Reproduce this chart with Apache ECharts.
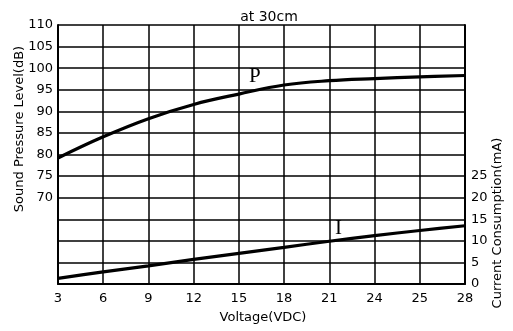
<!DOCTYPE html>
<html>
<head>
<meta charset="utf-8">
<script src="https://cdn.jsdelivr.net/npm/echarts@6/dist/echarts.min.js"></script>
<style>
  html, body { margin: 0; padding: 0; background: #fff; }
  #chart { width: 513px; height: 331px; }
</style>
</head>
<body>
<div id="chart"></div>
<script>
// Supply voltage steps along the bottom axis
const voltageLabels = ['3', '6', '9', '12', '15', '18', '21', '24', '25', '28'];
// Sound pressure level (dB) at 30 cm
const splValues = [79.2, 84.1, 88.3, 91.6, 94.0, 96.1, 97.1, 97.6, 98.0, 98.3];
// Current consumption (mA)
const currentValues = [1.3, 2.8, 4.2, 5.7, 7.1, 8.5, 9.9, 11.2, 12.4, 13.5];

const FONT = 'DejaVu Sans';
const chart = echarts.init(document.getElementById('chart'), null, { renderer: 'canvas' });

chart.setOption({
  animation: false,
  backgroundColor: '#fff',
  grid: { left: 58, right: 48, top: 25, bottom: 47 },
  title: {
    text: 'at 30cm', left: 264, top: 5, textAlign: 'center',
    textStyle: { fontFamily: FONT, fontSize: 14, fontWeight: 'normal', color: '#000' }
  },
  xAxis: {
    type: 'category',
    data: voltageLabels,
    boundaryGap: false,
    axisLine: { lineStyle: { color: '#000', width: 2 } },
    axisTick: { show: false },
    axisLabel: { color: '#000', fontFamily: FONT, fontSize: 13, margin: 8 },
    splitLine: { show: true, lineStyle: { color: '#000', width: 1.5 } }
  },
  yAxis: [
    {
      type: 'value', min: 50, max: 110, interval: 5,
      axisLine: { show: true, lineStyle: { color: '#000', width: 2 } },
      axisTick: { show: false },
      axisLabel: {
        color: '#000', fontFamily: FONT, fontSize: 13, margin: 5,
        formatter: v => (v >= 70 ? String(v) : '')
      },
      splitLine: { show: true, lineStyle: { color: '#000', width: 1.5 } }
    },
    {
      type: 'value', min: 0, max: 60, interval: 5, position: 'right',
      axisLine: { show: true, lineStyle: { color: '#000', width: 2 } },
      axisTick: { show: false },
      axisLabel: {
        color: '#000', fontFamily: FONT, fontSize: 13, margin: 6,
        formatter: v => (v <= 25 ? String(v) : '')
      },
      splitLine: { show: false }
    }
  ],
  series: [
    {
      name: 'P', type: 'line', yAxisIndex: 0, data: splValues,
      smooth: 0.4, showSymbol: false,
      lineStyle: { color: '#000', width: 3.2 }
    },
    {
      name: 'I', type: 'line', yAxisIndex: 1, data: currentValues,
      smooth: 0.3, showSymbol: false,
      lineStyle: { color: '#000', width: 3.2 }
    }
  ],
  graphic: [
    {
      type: 'text', left: 249, top: 66,
      style: { text: 'P', font: '21px "Liberation Serif"', fill: '#000' }
    },
    {
      type: 'text', left: 335, top: 218,
      style: { text: 'I', font: '21px "Liberation Serif"', fill: '#000' }
    },
    {
      type: 'text', x: 20, y: 129, rotation: Math.PI / 2,
      style: {
        text: 'Sound Pressure Level(dB)', font: '13px "DejaVu Sans"', fill: '#000',
        align: 'center', verticalAlign: 'middle'
      }
    },
    {
      type: 'text', x: 498, y: 223, rotation: Math.PI / 2,
      style: {
        text: 'Current Consumption(mA)', font: '13px "DejaVu Sans"', fill: '#000',
        align: 'center', verticalAlign: 'middle'
      }
    },
    {
      type: 'text', x: 263, y: 318,
      style: {
        text: 'Voltage(VDC)', font: '13px "DejaVu Sans"', fill: '#000',
        align: 'center', verticalAlign: 'middle'
      }
    }
  ]
});
</script>
</body>
</html>
